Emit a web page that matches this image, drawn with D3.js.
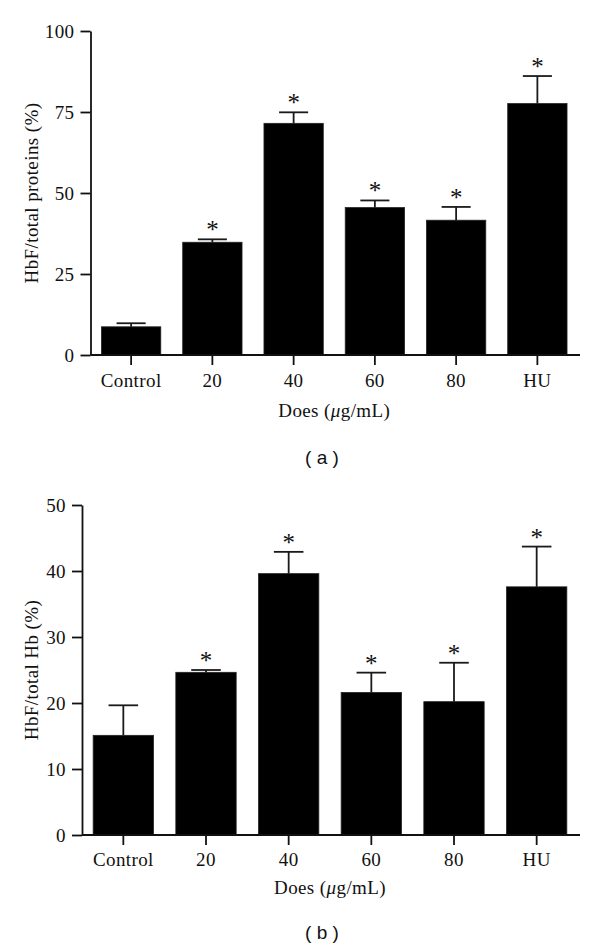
<!DOCTYPE html>
<html>
<head>
<meta charset="utf-8">
<script src="https://cdn.jsdelivr.net/npm/d3@7/dist/d3.min.js"></script>
<style>
  html, body { margin: 0; padding: 0; background: #fff; }
  svg text { fill: #111; }
</style>
</head>
<body>
<svg id="chart" width="600" height="950"></svg>
<script>
// ---- Data ----
const categories = ["Control", "20", "40", "60", "80", "HU"];

// Panel (a): HbF / total proteins (%)
const proteinMeans = [8.7, 34.8, 71.5, 45.5, 41.6, 77.6];
const proteinErrors = [1.1, 0.9, 3.4, 2.2, 4.1, 8.5];
const proteinSignificant = [false, true, true, true, true, true];
const proteinTicks = [0, 25, 50, 75, 100];

// Panel (b): HbF / total Hb (%)
const hbMeans = [15.1, 24.65, 39.6, 21.6, 20.2, 37.6];
const hbErrors = [4.55, 0.35, 3.3, 3.0, 5.9, 6.1];
const hbSignificant = [false, true, true, true, true, true];
const hbTicks = [0, 10, 20, 30, 40, 50];

const xTitle = "Does (";
const xTitleUnit = "μ";
const xTitleRest = "g/mL)";

const svg = d3.select("#chart");
const serif = "'Liberation Serif', 'Times New Roman', serif";
const sans = "'Liberation Sans', Arial, sans-serif";

function panel(cfg) {
  const g = svg.append("g");
  const x = d3.scaleBand()
    .domain(categories)
    .range([cfg.left, cfg.right])
    .paddingInner(0.27)
    .paddingOuter(0.135);
  const y = d3.scaleLinear()
    .domain([0, cfg.max])
    .range([cfg.bottom, cfg.top]);

  // bars
  g.selectAll("rect.bar")
    .data(cfg.means)
    .join("rect")
    .attr("class", "bar")
    .attr("x", (d, i) => x(categories[i]))
    .attr("width", x.bandwidth())
    .attr("y", d => y(d))
    .attr("height", d => y(0) - y(d))
    .attr("fill", "#000")
    .attr("stroke", "#222")
    .attr("stroke-width", 0.8);

  // error bars (upper only)
  const capW = x.bandwidth() * 0.49;
  const eb = g.selectAll("g.err")
    .data(cfg.means.map((m, i) => ({ m, e: cfg.errors[i], c: categories[i], s: cfg.sig[i] })))
    .join("g")
    .attr("class", "err");
  eb.append("line")
    .attr("x1", d => x(d.c) + x.bandwidth() / 2)
    .attr("x2", d => x(d.c) + x.bandwidth() / 2)
    .attr("y1", d => y(d.m))
    .attr("y2", d => y(d.m + d.e))
    .attr("stroke", "#1a1a1a")
    .attr("stroke-width", 1.8);
  eb.append("line")
    .attr("x1", d => x(d.c) + x.bandwidth() / 2 - capW / 2)
    .attr("x2", d => x(d.c) + x.bandwidth() / 2 + capW / 2)
    .attr("y1", d => y(d.m + d.e))
    .attr("y2", d => y(d.m + d.e))
    .attr("stroke", "#1a1a1a")
    .attr("stroke-width", 1.8);
  eb.filter(d => d.s).append("text")
    .attr("x", d => x(d.c) + x.bandwidth() / 2)
    .attr("y", d => y(d.m + d.e) - 1)
    .attr("text-anchor", "middle")
    .style("font-family", serif)
    .style("font-size", "25px")
    .text("*");

  // axes
  const yAxis = d3.axisLeft(y)
    .tickValues(cfg.ticks)
    .tickSize(10)
    .tickSizeOuter(0)
    .tickPadding(6)
    .tickFormat(d3.format("d"));
  const ya = g.append("g")
    .attr("transform", `translate(${cfg.left},0)`)
    .call(yAxis);

  const xAxis = d3.axisBottom(x)
    .tickSize(10)
    .tickSizeOuter(0)
    .tickPadding(cfg.xPad);
  const xa = g.append("g")
    .attr("transform", `translate(0,${cfg.bottom})`)
    .call(xAxis);
  // extend x-axis line slightly past the last band
  xa.select(".domain").attr("d", `M${cfg.left},0H${cfg.right + 2}`);

  [ya, xa].forEach(a => {
    a.select(".domain").attr("stroke", "#111").attr("stroke-width", 1.8);
    a.selectAll(".tick line").attr("stroke", "#111").attr("stroke-width", 1.8);
    a.selectAll(".tick text")
      .style("font-family", serif)
      .style("font-size", "19px")
      .style("letter-spacing", "0.4px")
      .attr("fill", "#111");
  });

  // y axis title
  g.append("text")
    .attr("transform", `translate(38,${(cfg.top + cfg.bottom) / 2}) rotate(-90)`)
    .attr("text-anchor", "middle")
    .style("font-family", serif)
    .style("font-size", "19px")
    .style("letter-spacing", "0.4px")
    .text(cfg.yTitle);

  // x axis title
  const xt = g.append("text")
    .attr("x", (cfg.left + cfg.right) / 2)
    .attr("y", cfg.xTitleY)
    .attr("text-anchor", "middle")
    .style("font-family", serif)
    .style("font-size", "19px")
    .style("letter-spacing", "0.4px");
  xt.append("tspan").text(xTitle);
  xt.append("tspan").style("font-style", "italic").text(xTitleUnit);
  xt.append("tspan").text(xTitleRest);

  // panel label
  g.append("text")
    .attr("x", 322)
    .attr("y", cfg.labelY)
    .attr("text-anchor", "middle")
    .style("font-family", sans)
    .style("font-size", "19px")
    .text(cfg.label);
}

panel({
  left: 90.5, right: 578, top: 31, bottom: 355, max: 100,
  means: proteinMeans, errors: proteinErrors, sig: proteinSignificant,
  ticks: proteinTicks, yTitle: "HbF/total proteins (%)",
  xPad: 9, xTitleY: 417, labelY: 464, label: "( a )"
});

panel({
  left: 82, right: 578, top: 505, bottom: 835, max: 50,
  means: hbMeans, errors: hbErrors, sig: hbSignificant,
  ticks: hbTicks, yTitle: "HbF/total Hb (%)",
  xPad: 8, xTitleY: 894, labelY: 939, label: "( b )"
});
</script>
</body>
</html>
